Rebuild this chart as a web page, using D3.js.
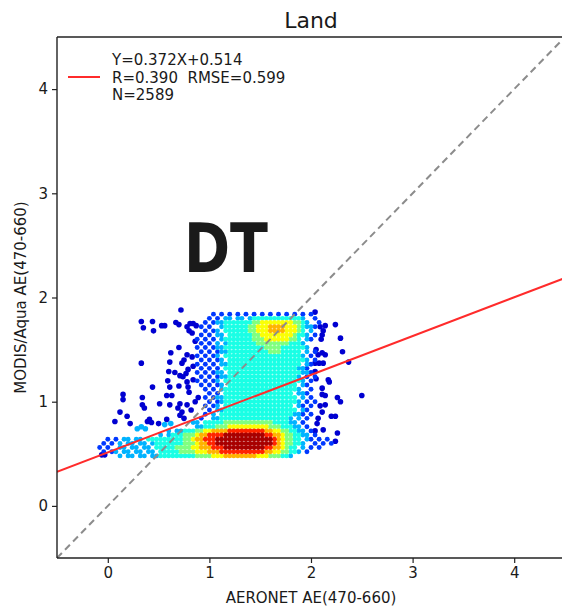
<!DOCTYPE html>
<html>
<head>
<meta charset="utf-8">
<script src="https://cdn.jsdelivr.net/npm/d3@7"></script>
<style>
  html, body { margin: 0; padding: 0; background: #fff; }
  svg { display: block; }
  text { font-family: "DejaVu Sans", sans-serif; fill: #1a1a1a; }
</style>
</head>
<body>
<svg id="chart" width="562" height="608"></svg>
<script>
// ---------------- data ----------------
const xTicks = [0, 1, 2, 3, 4];
const yTicks = [0, 1, 2, 3, 4];
const titleText = "Land";
const xLabel = "AERONET AE(470-660)";
const yLabel = "MODIS/Aqua AE(470-660)";
const legendLines = ["Y=0.372X+0.514", "R=0.390  RMSE=0.599", "N=2589"];
const fitSlope = 0.372;
const fitIntercept = 0.514;
const panelTag = "DT";

// density map: [y, [[xStart, xEnd, densityLevel], ...]] on a 0.04 grid
const densityRows = [
  [1.84, [[1.0,1.12,2],[1.16,1.48,2],[1.52,1.8,2],[1.84,2.04,2]]],
  [1.80, [[0.96,1.08,2],[1.12,1.4,3],[1.44,1.88,4],[1.92,1.96,3],[2.0,2.08,2]]],
  [1.76, [[0.96,1.04,2],[1.08,1.12,3],[1.16,1.4,4],[1.44,1.48,5],[1.52,1.8,6],[1.84,1.88,5],[1.92,1.92,4],[1.96,2.0,3],[2.04,2.08,2]]],
  [1.72, [[0.92,1.04,2],[1.08,1.12,3],[1.16,1.36,4],[1.4,1.44,5],[1.48,1.56,6],[1.6,1.72,7],[1.76,1.84,6],[1.88,1.88,5],[1.92,1.92,4],[1.96,2.0,3],[2.04,2.08,2]]],
  [1.68, [[0.92,1.04,2],[1.08,1.12,3],[1.16,1.36,4],[1.4,1.44,5],[1.48,1.56,6],[1.6,1.72,7],[1.76,1.84,6],[1.88,1.88,5],[1.92,1.92,4],[1.96,2.0,3],[2.04,2.04,2]]],
  [1.64, [[0.92,1.04,2],[1.08,1.16,3],[1.2,1.4,4],[1.44,1.48,5],[1.52,1.8,6],[1.84,1.84,5],[1.88,1.92,4],[1.96,1.96,3],[2.0,2.08,2]]],
  [1.60, [[0.88,1.04,2],[1.08,1.12,3],[1.16,1.4,4],[1.44,1.52,5],[1.56,1.76,6],[1.8,1.84,5],[1.88,1.88,4],[1.92,1.96,3],[2.0,2.04,2]]],
  [1.56, [[0.92,1.04,2],[1.08,1.16,3],[1.2,1.44,4],[1.48,1.76,5],[1.8,1.88,4],[1.92,1.96,3],[2.0,2.0,2]]],
  [1.52, [[0.88,1.04,2],[1.08,1.12,3],[1.16,1.52,4],[1.56,1.68,5],[1.72,1.92,4],[1.96,2.0,3],[2.04,2.04,2]]],
  [1.48, [[0.92,1.08,2],[1.12,1.16,3],[1.2,1.56,4],[1.6,1.68,5],[1.72,1.88,4],[1.92,1.96,3],[2.0,2.04,2]]],
  [1.44, [[0.88,1.04,2],[1.08,1.12,3],[1.16,1.88,4],[1.92,1.96,3],[2.0,2.0,2]]],
  [1.40, [[0.92,1.08,2],[1.12,1.16,3],[1.2,1.92,4],[1.96,1.96,3],[2.0,2.04,2]]],
  [1.36, [[0.88,1.04,2],[1.08,1.16,3],[1.2,1.88,4],[1.92,1.96,3],[2.0,2.04,2]]],
  [1.32, [[0.92,1.08,2],[1.12,1.12,3],[1.16,1.84,4],[1.88,1.92,3],[1.96,2.0,2]]],
  [1.28, [[0.88,1.04,2],[1.08,1.16,3],[1.2,1.88,4],[1.92,1.96,3],[2.0,2.04,2]]],
  [1.24, [[0.92,1.08,2],[1.12,1.16,3],[1.2,1.84,4],[1.88,1.92,3],[1.96,2.04,2]]],
  [1.20, [[0.88,1.04,2],[1.08,1.12,3],[1.16,1.88,4],[1.92,1.96,3],[2.0,2.0,2]]],
  [1.16, [[0.92,1.08,2],[1.12,1.16,3],[1.2,1.84,4],[1.88,1.92,3],[1.96,2.0,2]]],
  [1.12, [[0.92,1.04,2],[1.08,1.12,3],[1.16,1.84,4],[1.88,1.92,3],[1.96,2.04,2]]],
  [1.08, [[0.96,1.08,2],[1.12,1.12,3],[1.16,1.8,4],[1.84,1.92,3],[1.96,2.0,2]]],
  [1.04, [[0.92,1.04,2],[1.08,1.12,3],[1.16,1.84,4],[1.88,1.92,3],[1.96,2.0,2]]],
  [1.00, [[0.96,1.08,2],[1.12,1.12,3],[1.16,1.84,4],[1.88,1.92,3],[1.96,2.04,2]]],
  [0.96, [[0.92,1.04,2],[1.08,1.12,3],[1.16,1.8,4],[1.84,1.88,3],[1.92,2.0,2]]],
  [0.92, [[0.96,1.04,2],[1.08,1.12,3],[1.16,1.84,4],[1.88,1.92,3],[1.96,2.0,2]]],
  [0.88, [[0.92,1.0,2],[1.04,1.08,3],[1.12,1.8,4],[1.84,1.88,3],[1.92,2.0,2]]],
  [0.84, [[0.92,0.96,2],[1.0,1.08,3],[1.12,1.76,4],[1.8,1.88,3],[1.92,2.0,2]]],
  [0.80, [[0.84,0.92,3],[0.96,1.12,4],[1.16,1.6,5],[1.64,1.76,4],[1.8,1.84,3],[1.88,1.96,2]]],
  [0.76, [[0.84,0.92,3],[0.96,1.04,4],[1.08,1.16,5],[1.2,1.56,6],[1.6,1.68,5],[1.72,1.8,4],[1.84,1.88,3],[1.92,2.0,2]]],
  [0.72, [[0.6,0.72,3],[0.76,0.84,4],[0.88,0.92,5],[0.96,1.0,6],[1.04,1.16,7],[1.2,1.52,8],[1.56,1.6,7],[1.64,1.68,6],[1.72,1.76,5],[1.8,1.84,4],[1.88,1.92,3],[1.96,2.04,2]]],
  [0.68, [[0.52,0.6,3],[0.64,0.72,4],[0.76,0.84,5],[0.88,0.88,6],[0.92,0.96,7],[1.0,1.12,8],[1.16,1.52,9],[1.56,1.6,8],[1.64,1.68,7],[1.72,1.72,6],[1.76,1.8,5],[1.84,1.88,4],[1.92,1.96,3],[2.0,2.08,2]]],
  [0.64, [[-0.04,0.12,2],[0.16,0.36,3],[0.4,0.72,4],[0.76,0.8,5],[0.84,0.84,6],[0.88,0.92,7],[0.96,1.04,8],[1.08,1.6,9],[1.64,1.64,8],[1.68,1.68,7],[1.72,1.72,6],[1.76,1.8,5],[1.84,1.88,4],[1.92,1.96,3],[2.0,2.16,2]]],
  [0.60, [[-0.04,0.08,2],[0.12,0.44,3],[0.48,0.72,4],[0.76,0.84,5],[0.88,0.88,6],[0.92,0.96,7],[1.0,1.04,8],[1.08,1.6,9],[1.64,1.64,8],[1.68,1.68,7],[1.72,1.72,6],[1.76,1.8,5],[1.84,1.88,4],[1.92,1.96,3],[2.0,2.2,2]]],
  [0.56, [[-0.08,0.04,2],[0.08,0.44,3],[0.48,0.64,4],[0.68,0.8,5],[0.84,0.88,6],[0.92,1.0,7],[1.04,1.12,8],[1.16,1.52,9],[1.56,1.6,8],[1.64,1.68,7],[1.72,1.72,6],[1.76,1.76,5],[1.8,1.84,4],[1.88,1.92,3],[1.96,2.12,2]]],
  [0.52, [[-0.08,0.04,2],[0.08,0.48,3],[0.52,0.68,4],[0.72,0.84,5],[0.88,0.96,6],[1.0,1.08,7],[1.12,1.52,8],[1.56,1.6,7],[1.64,1.68,6],[1.72,1.76,5],[1.8,1.84,4],[1.88,1.92,3],[1.96,2.0,2]]],
  [0.48, [[0.12,0.48,3],[0.52,0.84,4],[0.88,1.0,5],[1.04,1.12,6],[1.16,1.44,7],[1.48,1.56,6],[1.6,1.68,5],[1.72,1.76,4],[1.8,1.8,3]]]
];

// isolated points
const sparseX = [0.72,0.33,0.44,0.53,0.56,0.35,0.45,0.67,0.70,0.78,0.81,0.84,0.87,0.80,0.83,0.86,0.70,0.62,0.78,0.75,0.73,0.83,0.33,0.61,0.60,0.66,0.79,0.77,0.84,0.71,0.74,0.59,0.78,0.84,0.61,0.70,0.79,0.80,0.44,0.15,0.15,0.34,0.34,0.36,0.58,0.63,0.51,0.61,0.71,0.69,0.73,0.78,0.82,0.86,0.89,0.12,0.19,0.07,0.22,0.41,0.43,0.39,0.50,0.58,0.71,0.75,-0.06,-0.03,
  2.04,2.09,2.14,2.12,2.11,2.10,2.24,2.29,2.31,2.37,2.17,2.05,2.07,2.11,2.14,2.04,2.08,2.12,2.04,2.05,2.11,2.11,2.14,2.18,2.26,2.29,2.50,2.09,2.14,2.20,2.24,2.11,2.07,2.06,2.12,2.26,2.24,2.04,
  0.29,0.33,0.37,0.56,0.62];
const sparseY = [1.88,1.77,1.77,1.73,1.73,1.71,1.68,1.76,1.74,1.72,1.75,1.75,1.73,1.68,1.66,1.58,1.52,1.47,1.45,1.40,1.37,1.43,1.37,1.38,1.29,1.28,1.31,1.27,1.34,1.25,1.24,1.20,1.19,1.21,1.14,1.15,1.14,1.09,1.14,1.07,1.02,1.04,0.97,0.94,1.06,1.06,0.98,0.97,0.98,0.94,0.90,0.97,0.92,1.00,1.04,0.90,0.86,0.81,0.79,0.83,0.80,0.81,0.79,0.83,0.87,0.84,0.49,0.49,
  1.86,1.72,1.73,1.68,1.64,1.60,1.74,1.61,1.48,1.38,1.21,1.50,1.45,1.47,1.45,1.37,1.37,1.37,1.29,1.22,1.13,1.07,1.06,1.19,1.04,1.00,1.06,0.96,0.97,0.86,0.86,0.90,0.84,0.79,0.73,0.70,0.62,0.72,
  0.74,0.76,0.74,0.78,0.79];
const sparseLevel = sparseX.map((_, i) => i >= sparseX.length - 5 ? 3 : 1);

// ---------------- chart ----------------
const W = 562, H = 608;
const svg = d3.select("#chart");
const x = d3.scaleLinear().domain([-0.5, 4.5]).range([57, 565]);
const y = d3.scaleLinear().domain([-0.5, 4.5]).range([558, 37]);

const levelT = [0, 0.08, 0.18, 0.3, 0.4, 0.5, 0.62, 0.7, 0.84, 0.96];
function jet(t) {
  const c = v => Math.max(0, Math.min(1, v));
  const r = c(1.5 - Math.abs(4 * t - 3));
  const g = c(1.5 - Math.abs(4 * t - 2));
  const b = c(1.5 - Math.abs(4 * t - 1));
  return d3.rgb(r * 255, g * 255, b * 255).formatHex();
}

// build points: low-density cells hold fewer points
const pts = [];
densityRows.forEach(([yy, runs], j) => {
  runs.forEach(([x0, x1, lv]) => {
    for (let k = Math.round(x0 / 0.04); k <= Math.round(x1 / 0.04); k++) {
      if (lv <= 2 && (k + j) % 2 !== 0) continue;
      if (lv === 3 && (k + 2 * j) % 3 === 0) continue;
      pts.push({ x: k * 0.04, y: yy, l: lv, r: 2.45 });
    }
  });
});
sparseX.forEach((sx, i) => pts.push({ x: sx, y: sparseY[i], l: sparseLevel[i], r: 2.8 }));
pts.sort((a, b) => a.l - b.l);

svg.append("defs").append("clipPath").attr("id", "plotclip")
  .append("rect").attr("x", 57).attr("y", 37).attr("width", 508).attr("height", 521);

const plot = svg.append("g").attr("clip-path", "url(#plotclip)");

plot.append("g").selectAll("circle").data(pts).join("circle")
  .attr("cx", d => x(d.x)).attr("cy", d => y(d.y)).attr("r", d => d.r)
  .attr("fill", d => jet(levelT[d.l]));

// 1:1 line
plot.append("line")
  .attr("x1", x(-0.5)).attr("y1", y(-0.5)).attr("x2", x(4.5)).attr("y2", y(4.5))
  .attr("stroke", "#8c8c8c").attr("stroke-width", 2).attr("stroke-dasharray", "7,4.5");

// fit line
plot.append("line")
  .attr("x1", x(-0.5)).attr("y1", y(fitSlope * -0.5 + fitIntercept))
  .attr("x2", x(4.5)).attr("y2", y(fitSlope * 4.5 + fitIntercept))
  .attr("stroke", "#ff2b2b").attr("stroke-width", 2);

// axes
const xAxis = svg.append("g").attr("transform", `translate(0,${y(-0.5)})`)
  .call(d3.axisBottom(x).tickValues(xTicks).tickFormat(d3.format("d")).tickSize(5).tickPadding(4));
const yAxis = svg.append("g").attr("transform", `translate(${x(-0.5)},0)`)
  .call(d3.axisLeft(y).tickValues(yTicks).tickFormat(d3.format("d")).tickSize(5).tickPadding(4));
[xAxis, yAxis].forEach(a => {
  a.select(".domain").remove();
  a.selectAll(".tick line").attr("stroke", "#222").attr("stroke-width", 1.2);
  a.selectAll(".tick text").attr("font-size", 15).attr("font-family", "DejaVu Sans").attr("fill", "#222");
});

// spines
const frame = svg.append("g").attr("stroke", "#222").attr("stroke-width", 1.4).attr("fill", "none");
frame.append("line").attr("x1", x(-0.5)).attr("x2", x(-0.5)).attr("y1", y(4.5)).attr("y2", y(-0.5));
frame.append("line").attr("x1", x(-0.5)).attr("x2", W + 5).attr("y1", y(-0.5)).attr("y2", y(-0.5));
frame.append("line").attr("x1", x(-0.5)).attr("x2", W + 5).attr("y1", y(4.5)).attr("y2", y(4.5));

// title & labels
svg.append("text").attr("x", (x(-0.5) + x(4.5)) / 2).attr("y", 28)
  .attr("text-anchor", "middle").attr("font-size", 22).text(titleText);
svg.append("text").attr("x", (x(-0.5) + x(4.5)) / 2).attr("y", 603)
  .attr("text-anchor", "middle").attr("font-size", 15).text(xLabel);
svg.append("text").attr("transform", `translate(26,${(y(-0.5) + y(4.5)) / 2}) rotate(-90)`)
  .attr("text-anchor", "middle").attr("font-size", 15).text(yLabel);

// legend
svg.append("line").attr("x1", 68).attr("x2", 100).attr("y1", 77).attr("y2", 77)
  .attr("stroke", "#ff2b2b").attr("stroke-width", 2);
legendLines.forEach((t, i) => {
  svg.append("text").attr("x", 112).attr("y", 65 + i * 17.5)
    .attr("font-size", 15).style("white-space", "pre").text(t);
});

// panel tag
svg.append("text").attr("x", 184).attr("y", 272)
  .attr("font-family", "Liberation Sans, Arial, sans-serif").attr("font-weight", "bold")
  .attr("font-size", 67).attr("textLength", 84).attr("lengthAdjust", "spacingAndGlyphs")
  .attr("fill", "#000").text(panelTag);
</script>
</body>
</html>
